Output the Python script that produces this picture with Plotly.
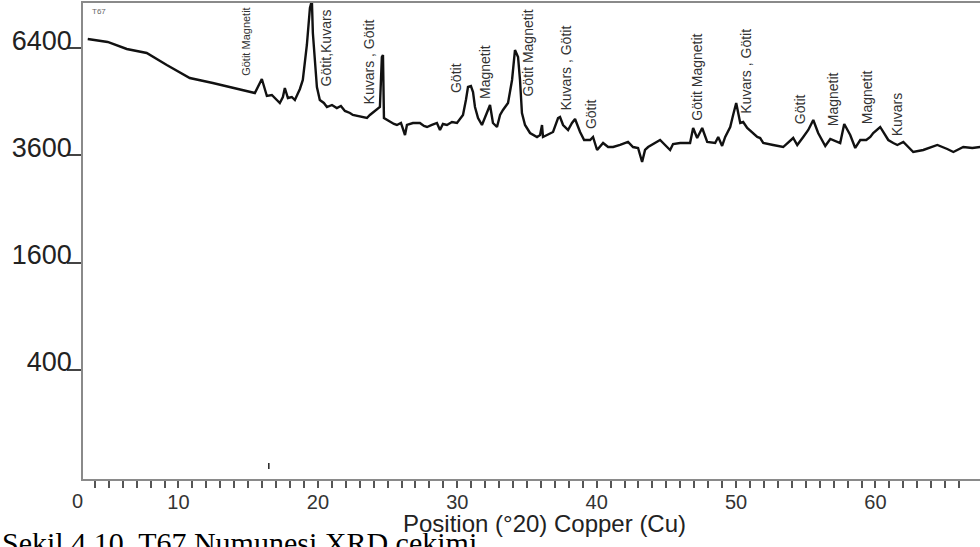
import numpy as np
import plotly.graph_objects as go

# XRD pattern of sample T67
two_theta = [3.49, 4.92, 6.29, 7.72, 9.16, 10.81, 12.46, 15.48, 15.98, 16.34, 16.70, 16.98,
             17.27, 17.49, 17.63, 17.85, 18.13, 18.35, 18.71, 18.92, 19.07, 19.21, 19.43, 19.57,
             19.64, 19.78, 19.93, 20.14, 20.43, 20.65, 21.01, 21.36, 21.65, 21.94, 22.30, 22.51,
             22.87, 23.23, 23.52, 23.73, 24.16, 24.45, 24.59, 24.67, 24.74, 25.17, 25.46, 25.67,
             25.96, 26.25, 26.39, 26.82, 27.32, 27.61, 27.83, 28.18, 28.54, 28.76, 28.97, 29.26,
             29.62, 29.98, 30.41, 30.62, 30.77, 30.98, 31.13, 31.27, 31.49, 31.77, 32.13, 32.35,
             32.56, 32.85, 33.07, 33.28, 33.64, 33.78, 33.93, 34.14, 34.36, 34.50, 34.64, 34.86,
             35.22, 35.72, 35.94, 36.08, 36.15, 36.44, 36.87, 37.23, 37.37, 37.59, 37.95, 38.23,
             38.45, 38.81, 39.10, 39.53, 39.74, 40.03, 40.46, 40.82, 41.18, 41.68, 42.25, 42.61,
             42.97, 43.26, 43.47, 43.69, 44.19, 44.55, 45.05, 45.27, 45.48, 45.99, 46.70, 46.92,
             47.21, 47.57, 47.93, 48.50, 48.72, 49.00, 49.22, 49.58, 49.79, 50.01, 50.30, 50.51,
             50.80, 51.16, 51.52, 51.73, 51.95, 52.66, 53.38, 54.10, 54.39, 54.82, 55.18, 55.54,
             55.89, 56.40, 56.76, 57.47, 57.76, 58.19, 58.55, 58.91, 59.34, 59.63, 59.84, 60.34,
             60.92, 61.28, 61.57, 62.00, 62.71, 63.43, 64.44, 65.15, 65.59, 66.30, 66.95, 67.52]
counts = [6678, 6587, 6376, 6257, 5908, 5541, 5403, 5132, 5513, 5053, 5079, 4973,
          4869, 5026, 5267, 5000, 5026, 4947, 5240, 5486, 5966, 6496, 7656, 7900,
          6862, 6053, 5294, 4947, 4869, 4765, 4817, 4739, 4791, 4663, 4612, 4561,
          4536, 4511, 4486, 4561, 4688, 4765, 6140, 6199, 4486, 4386, 4337, 4313,
          4362, 4071, 4313, 4362, 4362, 4288, 4264, 4313, 4362, 4191, 4337, 4313,
          4386, 4362, 4561, 4947, 5294, 5321, 5159, 4765, 4486, 4313, 4612, 4817,
          4362, 4264, 4561, 4688, 4869, 5213, 5486, 6346, 6140, 5486, 4612, 4313,
          4119, 4024, 4071, 4313, 4024, 4071, 4143, 4486, 4511, 4313, 4191, 4362,
          4461, 4143, 3953, 3953, 4024, 3722, 3883, 3790, 3790, 3837, 3906, 3790,
          3768, 3454, 3722, 3790, 3883, 3953, 3790, 3722, 3860, 3883, 3883, 4240,
          4000, 4240, 3906, 3883, 4024, 3814, 4024, 4264, 4561, 4869, 4362, 4386,
          4240, 4119, 4024, 4000, 3883, 3837, 3790, 4000, 3837, 4024, 4191, 4436,
          4119, 3814, 3977, 3883, 4337, 4071, 3768, 3953, 3953, 4024, 4119, 4264,
          3953, 3883, 3837, 3906, 3676, 3722, 3837, 3745, 3676, 3790, 3768, 3790]

# phase labels
peak_names = ["Götit Magnetit", "Götit,Kuvars", "Kuvars , Götit", "Götit", "Magnetit",
              "Götit Magnetit", "Kuvars , Götit", "Götit", "Götit Magnetit", "Kuvars , Götit",
              "Götit", "Magnetit", "Magnetit", "Kuvars"]
peak_pos = [14.83, 20.65, 23.66, 29.91, 31.99, 35.08, 37.73, 39.60, 47.21, 50.73,
            54.60, 56.97, 59.41, 61.57]
peak_base = [5486, 5213, 4739, 5026, 4869, 4922, 4561, 4119, 4313, 4486,
             4240, 4191, 4240, 3953]

y_ticks = [400, 1600, 3600, 6400]
x_ticks = [10, 20, 30, 40, 50, 60]

fig = go.Figure()
fig.add_trace(go.Scatter(x=two_theta, y=np.sqrt(counts), mode='lines',
                         line=dict(color='#111111', width=2.4), showlegend=False))

for name, pos, base in zip(peak_names, peak_pos, peak_base):
    small = name == "Götit Magnetit" and pos < 20
    fig.add_annotation(x=pos, y=np.sqrt(base), text=name, textangle=-90, showarrow=False,
                       xanchor='center', yanchor='bottom', yshift=2,
                       font=dict(family='Liberation Sans', size=11 if small else 14, color='#333333'))

minor = list(range(4, 67))
fig.update_xaxes(range=[3.15, 67.5], tickmode='array', tickvals=minor,
                 ticktext=[str(v) if v in x_ticks else '' for v in minor],
                 ticks='outside', ticklen=7, tickwidth=1.5, tickcolor='#555555',
                 ticklabelstandoff=-3, automargin=False,
                 showline=True, linecolor='#8a8a8a', linewidth=1.5, mirror=True,
                 showgrid=False, zeroline=False,
                 tickfont=dict(family='Liberation Sans', size=20, color='#333333'))
fig.update_yaxes(range=[-0.37, 88.43], tickmode='array', tickvals=np.sqrt(y_ticks),
                 ticktext=[str(v) for v in y_ticks],
                 ticks='outside', ticklen=14, tickwidth=1.5, tickcolor='#444444',
                 ticklabelshift=-8, ticklabelstandoff=-10, automargin=False,
                 showline=True, linecolor='#8a8a8a', linewidth=1.5,
                 showgrid=False, zeroline=False,
                 tickfont=dict(family='Liberation Sans', size=27, color='#222222'))

# origin label, axis title, sample tag and caption
fig.add_annotation(x=-0.0056, y=-0.046, xref='paper', yref='paper', text='0', showarrow=False,
                   xanchor='center', yanchor='middle',
                   font=dict(family='Liberation Sans', size=20, color='#333333'))
fig.add_annotation(x=0.515, y=-0.093, xref='paper', yref='paper', text='Position (°20) Copper (Cu)',
                   showarrow=False, xanchor='center', yanchor='middle',
                   font=dict(family='Liberation Sans', size=24, color='#222222'))
fig.add_annotation(x=0.008, y=0.995, xref='paper', yref='paper', text='T67', showarrow=False,
                   xanchor='left', yanchor='top', font=dict(family='Liberation Sans', size=8, color='#666666'))
fig.add_annotation(x=-0.0925, y=-0.095, xref='paper', yref='paper',
                   text='Şekil 4.10. T67 Numunesi XRD çekimi', showarrow=False,
                   xanchor='left', yanchor='top',
                   font=dict(family='Liberation Serif', size=30, color='#000000'))

fig.add_shape(type='line', x0=16.48, x1=16.48, y0=1.5, y1=2.6, line=dict(color='#222222', width=1.5))

fig.update_layout(width=980, height=547, margin=dict(l=83, r=0, t=3, b=68),
                  plot_bgcolor='white', paper_bgcolor='white')

# drop the browser's default body margin so the figure sits at the page corner
fig.write_html("out.html", config={'displayModeBar': False},
               post_script="document.body.style.margin='0px';")
